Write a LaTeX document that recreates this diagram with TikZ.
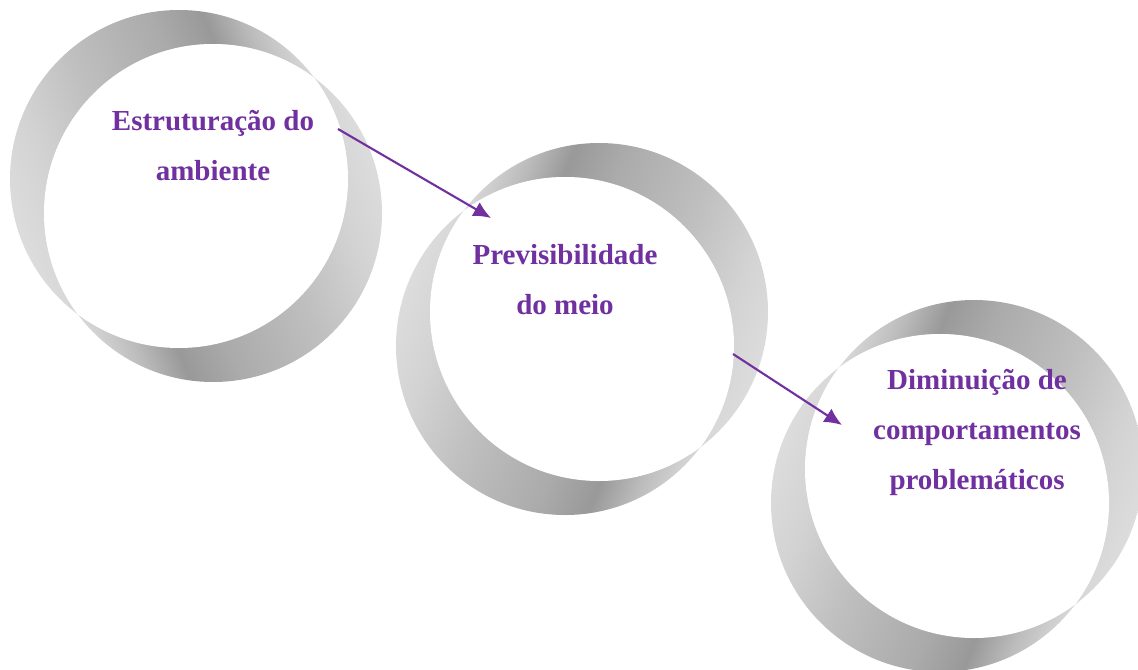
\documentclass[tikz,border=0pt]{standalone}
\usepackage{fontspec}
\setmainfont{Liberation Serif}
\usetikzlibrary{arrows.meta}

\definecolor{bandpale}{HTML}{E0E0E0}
\definecolor{bandlight}{HTML}{D8D8D8}
\definecolor{bandmid}{HTML}{BCBCBC}
\definecolor{banddark}{HTML}{999999}
\definecolor{bandshade}{HTML}{ABABAB}
\definecolor{bandsoft}{HTML}{BFBFBF}
\definecolor{bandfair}{HTML}{D3D3D3}
\definecolor{bandedge}{HTML}{DCDCDC}
\definecolor{txtpurple}{HTML}{7030A0}

\pgfdeclarehorizontalshading{bandfade}{100bp}{color(0bp)=(bandpale); color(26bp)=(bandlight);
	color(32bp)=(bandmid); color(37.7bp)=(banddark); color(45bp)=(bandshade);
	color(58bp)=(bandsoft); color(68bp)=(bandfair); color(75bp)=(bandedge); color(100bp)=(bandpale)}

\tikzset{
	stagetext/.style={text=txtpurple,font=\bfseries\fontsize{16.5}{28.3}\selectfont,
		align=center,inner sep=0pt,anchor=base},
	flowarrow/.style={->,color=txtpurple,line width=1.2pt}
}

\begin{document}
\begin{tikzpicture}[x=0.02cm,y=-0.02cm,>={Latex[length=10pt,width=9pt]}]

\useasboundingbox (0,0) rectangle (1138,669);

% twisted rings
\foreach \cx/\cy/\s in {196/196/1,582/329/-1,957/486/-1}{
	\pgfmathsetmacro{\angtop}{90+111.5*\s}
	\shade[shading=bandfade,shading angle=\angtop] ({\cx-17*\s},{\cy-17}) circle[radius=169];
	\shade[shading=bandfade,shading angle=\angtop+180] ({\cx+17*\s},{\cy+17}) circle[radius=169];
	\begin{scope}
	\clip ({\cx-17*\s},{\cy-17}) circle[radius=169];
	\fill[white] ({\cx+17*\s},{\cy+17}) circle[radius=169];
	\end{scope}
}

\node[stagetext] (estrut) at (213,180) {Estruturação do\\ambiente};
\node[stagetext] (previs) at (565,314) {Previsibilidade\\do meio};
\node[stagetext] (diminu) at (977,489) {Diminuição de\\comportamentos\\problemáticos};

\coordinate (estrut-out) at (338,129);
\coordinate (previs-in) at (491,218);
\coordinate (previs-out) at (733,354);
\coordinate (diminu-in) at (842,425);

\draw[flowarrow] (estrut-out) -- (previs-in);
\draw[flowarrow] (previs-out) -- (diminu-in);

\end{tikzpicture}
\end{document}
